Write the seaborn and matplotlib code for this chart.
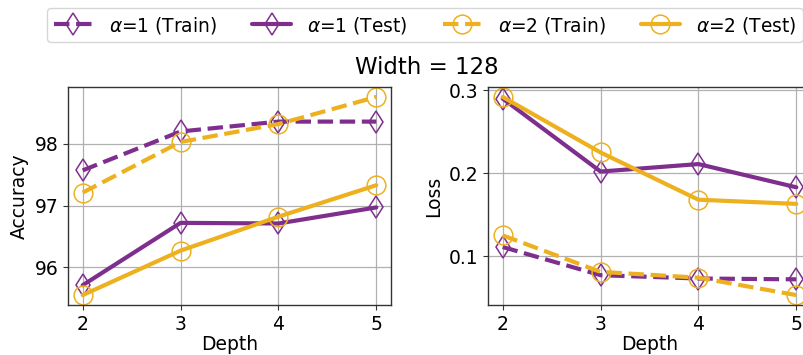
import matplotlib
matplotlib.use("Agg")
import matplotlib.pyplot as plt
import seaborn as sns
import pandas as pd

depth = [2, 3, 4, 5]
acc_a1_train = [97.57, 98.20, 98.36, 98.36]
acc_a1_test = [95.71, 96.72, 96.71, 96.97]
acc_a2_train = [97.21, 98.03, 98.32, 98.76]
acc_a2_test = [95.55, 96.27, 96.82, 97.33]
loss_a1_train = [0.111, 0.077, 0.073, 0.072]
loss_a1_test = [0.290, 0.202, 0.211, 0.183]
loss_a2_train = [0.125, 0.081, 0.074, 0.053]
loss_a2_test = [0.292, 0.225, 0.168, 0.163]
labels = ["$\\alpha$=1 (Train)", "$\\alpha$=1 (Test)", "$\\alpha$=2 (Train)", "$\\alpha$=2 (Test)"]
title = "Width = 128"

purple = "#7E2F8E"
orange = "#EDB120"

sns.set_style("ticks", {"text.color": "black", "axes.labelcolor": "black",
                        "xtick.color": "#222222", "ytick.color": "#222222"})
plt.rcParams["font.family"] = ["DejaVu Sans"]
plt.rcParams["font.size"] = 13.5

fig = plt.figure(figsize=(8.04, 3.55), dpi=100)
ax1 = fig.add_axes([68/804, 50/355, 323/804, 218/355])
ax2 = fig.add_axes([488/804, 50/355, 323/804, 218/355])

styles = [
    (purple, "--", "d"),
    (purple, "-", "d"),
    (orange, "--", "o"),
    (orange, "-", "o"),
]

def draw(ax, series, ylabel):
    for vals, lab, (c, ls, m) in zip(series, labels, styles):
        df = pd.DataFrame({"Depth": depth, "v": vals})
        sns.lineplot(data=df, x="Depth", y="v", ax=ax, color=c, linestyle=ls,
                     marker=m, markersize=13.5 if m == "o" else 11.5,
                     markerfacecolor="none", markeredgecolor=c, markeredgewidth=1.1,
                     linewidth=3, label=lab, legend=False)
    ax.set_xlabel("Depth", fontsize=13.5, labelpad=1)
    ax.set_ylabel(ylabel, fontsize=13.5, labelpad=4)
    ax.set_xticks(depth)
    ax.grid(True, color="#b0b0b0", linewidth=0.9)
    ax.tick_params(labelsize=13.5, color="#333333", labelcolor="black")
    for s in ax.spines.values():
        s.set_color("#333333")
        s.set_linewidth(1.0)

draw(ax1, [acc_a1_train, acc_a1_test, acc_a2_train, acc_a2_test], "Accuracy")
draw(ax2, [loss_a1_train, loss_a1_test, loss_a2_train, loss_a2_test], "Loss")
ax1.set_yticks([96, 97, 98])
ax2.set_yticks([0.1, 0.2, 0.3])

handles, labs = ax1.get_legend_handles_labels()
fig.legend(handles, labs, loc="center", bbox_to_anchor=(425/804, 1 - 25/355),
           ncol=4, fontsize=13.4, frameon=True, handlelength=2.1, handletextpad=0.85,
           columnspacing=1.9, borderpad=0.35)
fig.text(427/804, 1 - 68/355, title, ha="center", va="center", fontsize=16.5)

fig.savefig("out.png", dpi=100)
